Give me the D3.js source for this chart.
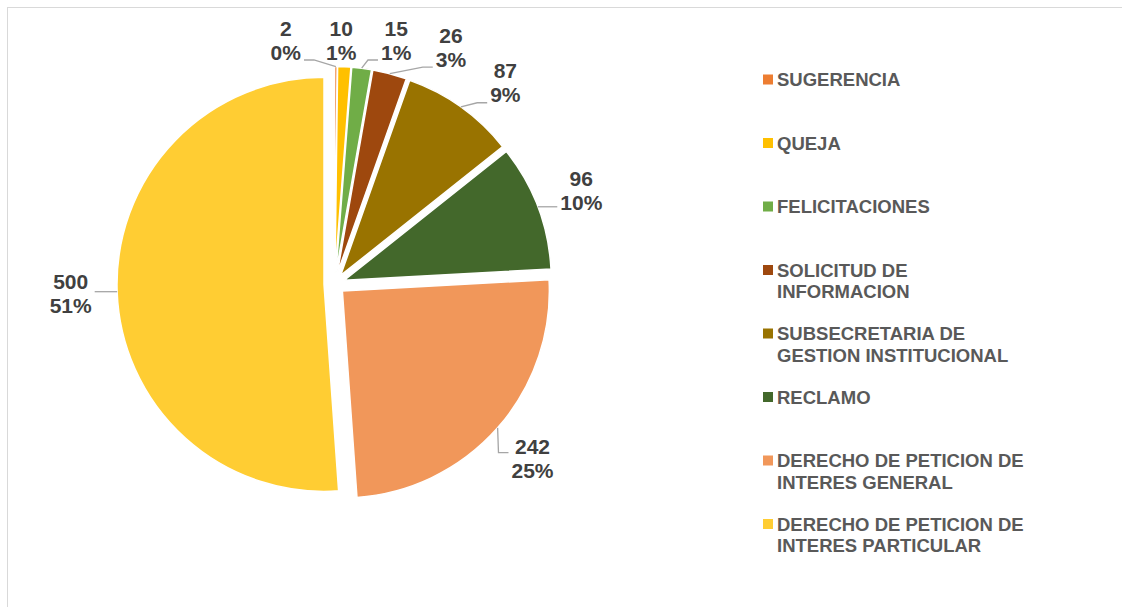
<!DOCTYPE html>
<html>
<head>
<meta charset="utf-8">
<script src="https://cdn.jsdelivr.net/npm/d3@7"></script>
<style>
  body { margin: 0; background: #fff; }
  svg { display: block; }
</style>
</head>
<body>
<div id="chart"></div>
<script>

// Categories in drawing order (clockwise from 12 o'clock).
const categories = [
  "SUGERENCIA",
  "QUEJA",
  "FELICITACIONES",
  "SOLICITUD DE INFORMACION",
  "SUBSECRETARIA DE GESTION INSTITUCIONAL",
  "RECLAMO",
  "DERECHO DE PETICION DE INTERES GENERAL",
  "DERECHO DE PETICION DE INTERES PARTICULAR"
];
const values = [2, 10, 15, 26, 87, 96, 242, 500];
// Percent labels as printed on the chart.
const percentLabels = ["0%", "1%", "1%", "3%", "9%", "10%", "25%", "51%"];
const colors = ["#ED7D31", "#FFC000", "#70AD47", "#9E480E", "#997300", "#43682B", "#F1975A", "#FFCD33"];

const width = 1122, height = 607;
const cx = 334.5, cy = 284, radius = 207, explode = 10.5;
const labelFont = "bold 21px 'Liberation Sans', Arial, sans-serif";
const legendFont = "bold 18.5px 'Liberation Sans', Arial, sans-serif";

const svg = d3.select("#chart").append("svg")
    .attr("width", width)
    .attr("height", height)
    .attr("viewBox", [0, 0, width, height]);

svg.append("rect")
    .attr("width", width).attr("height", height)
    .attr("fill", "#fff");

// Chart frame
svg.append("rect")
    .attr("x", 7.5).attr("y", 7.5)
    .attr("width", width).attr("height", height)
    .attr("fill", "none")
    .attr("stroke", "#d9d9d9")
    .attr("stroke-width", 1);

const pie = d3.pie().sort(null).value(d => d);
const arcs = pie(values);
const arc = d3.arc().innerRadius(0).outerRadius(radius);
const color = d3.scaleOrdinal().domain(categories).range(colors);

const mid = a => (a.startAngle + a.endAngle) / 2;

// Exploded slices
svg.append("g")
    .selectAll("path")
    .data(arcs)
    .join("path")
    .attr("transform", d => {
        const m = mid(d);
        return `translate(${cx + explode * Math.sin(m)},${cy - explode * Math.cos(m)})`;
    })
    .attr("d", arc)
    .attr("fill", (d, i) => color(categories[i]))
    .attr("stroke", "#fff")
    .attr("stroke-width", 1.5)
    .attr("stroke-linejoin", "round");

// Measure text widths
const ctx = document.createElement("canvas").getContext("2d");
function measure(txt, font) { ctx.font = font; return ctx.measureText(txt).width; }

// Data labels: start on a circle outside the pie, then push apart overlapping ones
// (the later label moves a little further, like the spreadsheet does).
const labelR = 264, topLimit = 40, gapX = 24, lineH = 24;
const labels = arcs.map((a, i) => ({
    i,
    ang: mid(a),
    w: Math.max(measure(String(values[i]), labelFont), measure(percentLabels[i], labelFont)),
    h: lineH * 2
}));
function place(l) {
    l.x = cx + labelR * Math.sin(l.ang);
    l.y = Math.max(topLimit, cy - labelR * Math.cos(l.ang));
}
labels.forEach(place);
for (let it = 0; it < 3000; it++) {
    let moved = false;
    for (let k = 0; k < labels.length - 1; k++) {
        const a = labels[k], b = labels[k + 1];
        const needX = (a.w + b.w) / 2 + gapX;
        if (Math.abs(a.x - b.x) < needX && Math.abs(a.y - b.y) < a.h) {
            a.ang -= 0.0024; b.ang += 0.003;
            place(a); place(b);
            moved = true;
        }
    }
    if (!moved) break;
}

// Leader lines
const line = d3.line();
const leaders = svg.append("g")
    .attr("fill", "none")
    .attr("stroke", "#a6a6a6")
    .attr("stroke-width", 1.3);
labels.forEach(l => {
    const m = mid(arcs[l.i]);
    const px = cx + (radius + explode) * Math.sin(m);
    const py = cy - (radius + explode) * Math.cos(m);
    const left = l.x - l.w / 2 - 3, right = l.x + l.w / 2 + 3;
    if (px >= left && px <= right) return;
    const bottom = l.y + lineH - 4;
    const ay = Math.min(bottom, Math.max(l.y - 6, py));
    const ax = px > right ? right : left;
    const ex = px > right ? ax + 10 : ax - 10;
    leaders.append("path").attr("d", line([[ax, ay], [ex, ay], [px, py]]));
});

// Label text
const lab = svg.append("g")
    .style("font", labelFont)
    .attr("fill", "#404040")
    .attr("text-anchor", "middle");
labels.forEach(l => {
    const t = lab.append("text").attr("x", l.x);
    t.append("tspan").attr("x", l.x).attr("y", l.y - lineH / 2 + 7.5).text(values[l.i]);
    t.append("tspan").attr("x", l.x).attr("y", l.y + lineH / 2 + 7.5).text(percentLabels[l.i]);
});

// Legend
const legendX = 763, legendW = 258, legendLineH = 21.7;
const ly = d3.scalePoint().domain(categories).range([79.5, 524]);
function wrap(txt) {
    const words = txt.split(" ");
    const out = [];
    let cur = "";
    words.forEach(w => {
        const test = cur ? cur + " " + w : w;
        if (measure(test, legendFont) > legendW && cur) { out.push(cur); cur = w; }
        else cur = test;
    });
    out.push(cur);
    return out;
}
const legend = svg.append("g")
    .selectAll("g")
    .data(categories)
    .join("g")
    .attr("transform", d => `translate(${legendX},${ly(d)})`);
legend.append("rect")
    .attr("x", 0).attr("y", -5)
    .attr("width", 10).attr("height", 10)
    .attr("fill", d => color(d));
legend.append("text")
    .style("font", legendFont)
    .attr("fill", "#595959")
    .each(function(d) {
        const t = d3.select(this);
        wrap(d).forEach((s, j) => {
            t.append("tspan").attr("x", 14).attr("y", 6.6 + j * legendLineH).text(s);
        });
    });

</script>
</body>
</html>
